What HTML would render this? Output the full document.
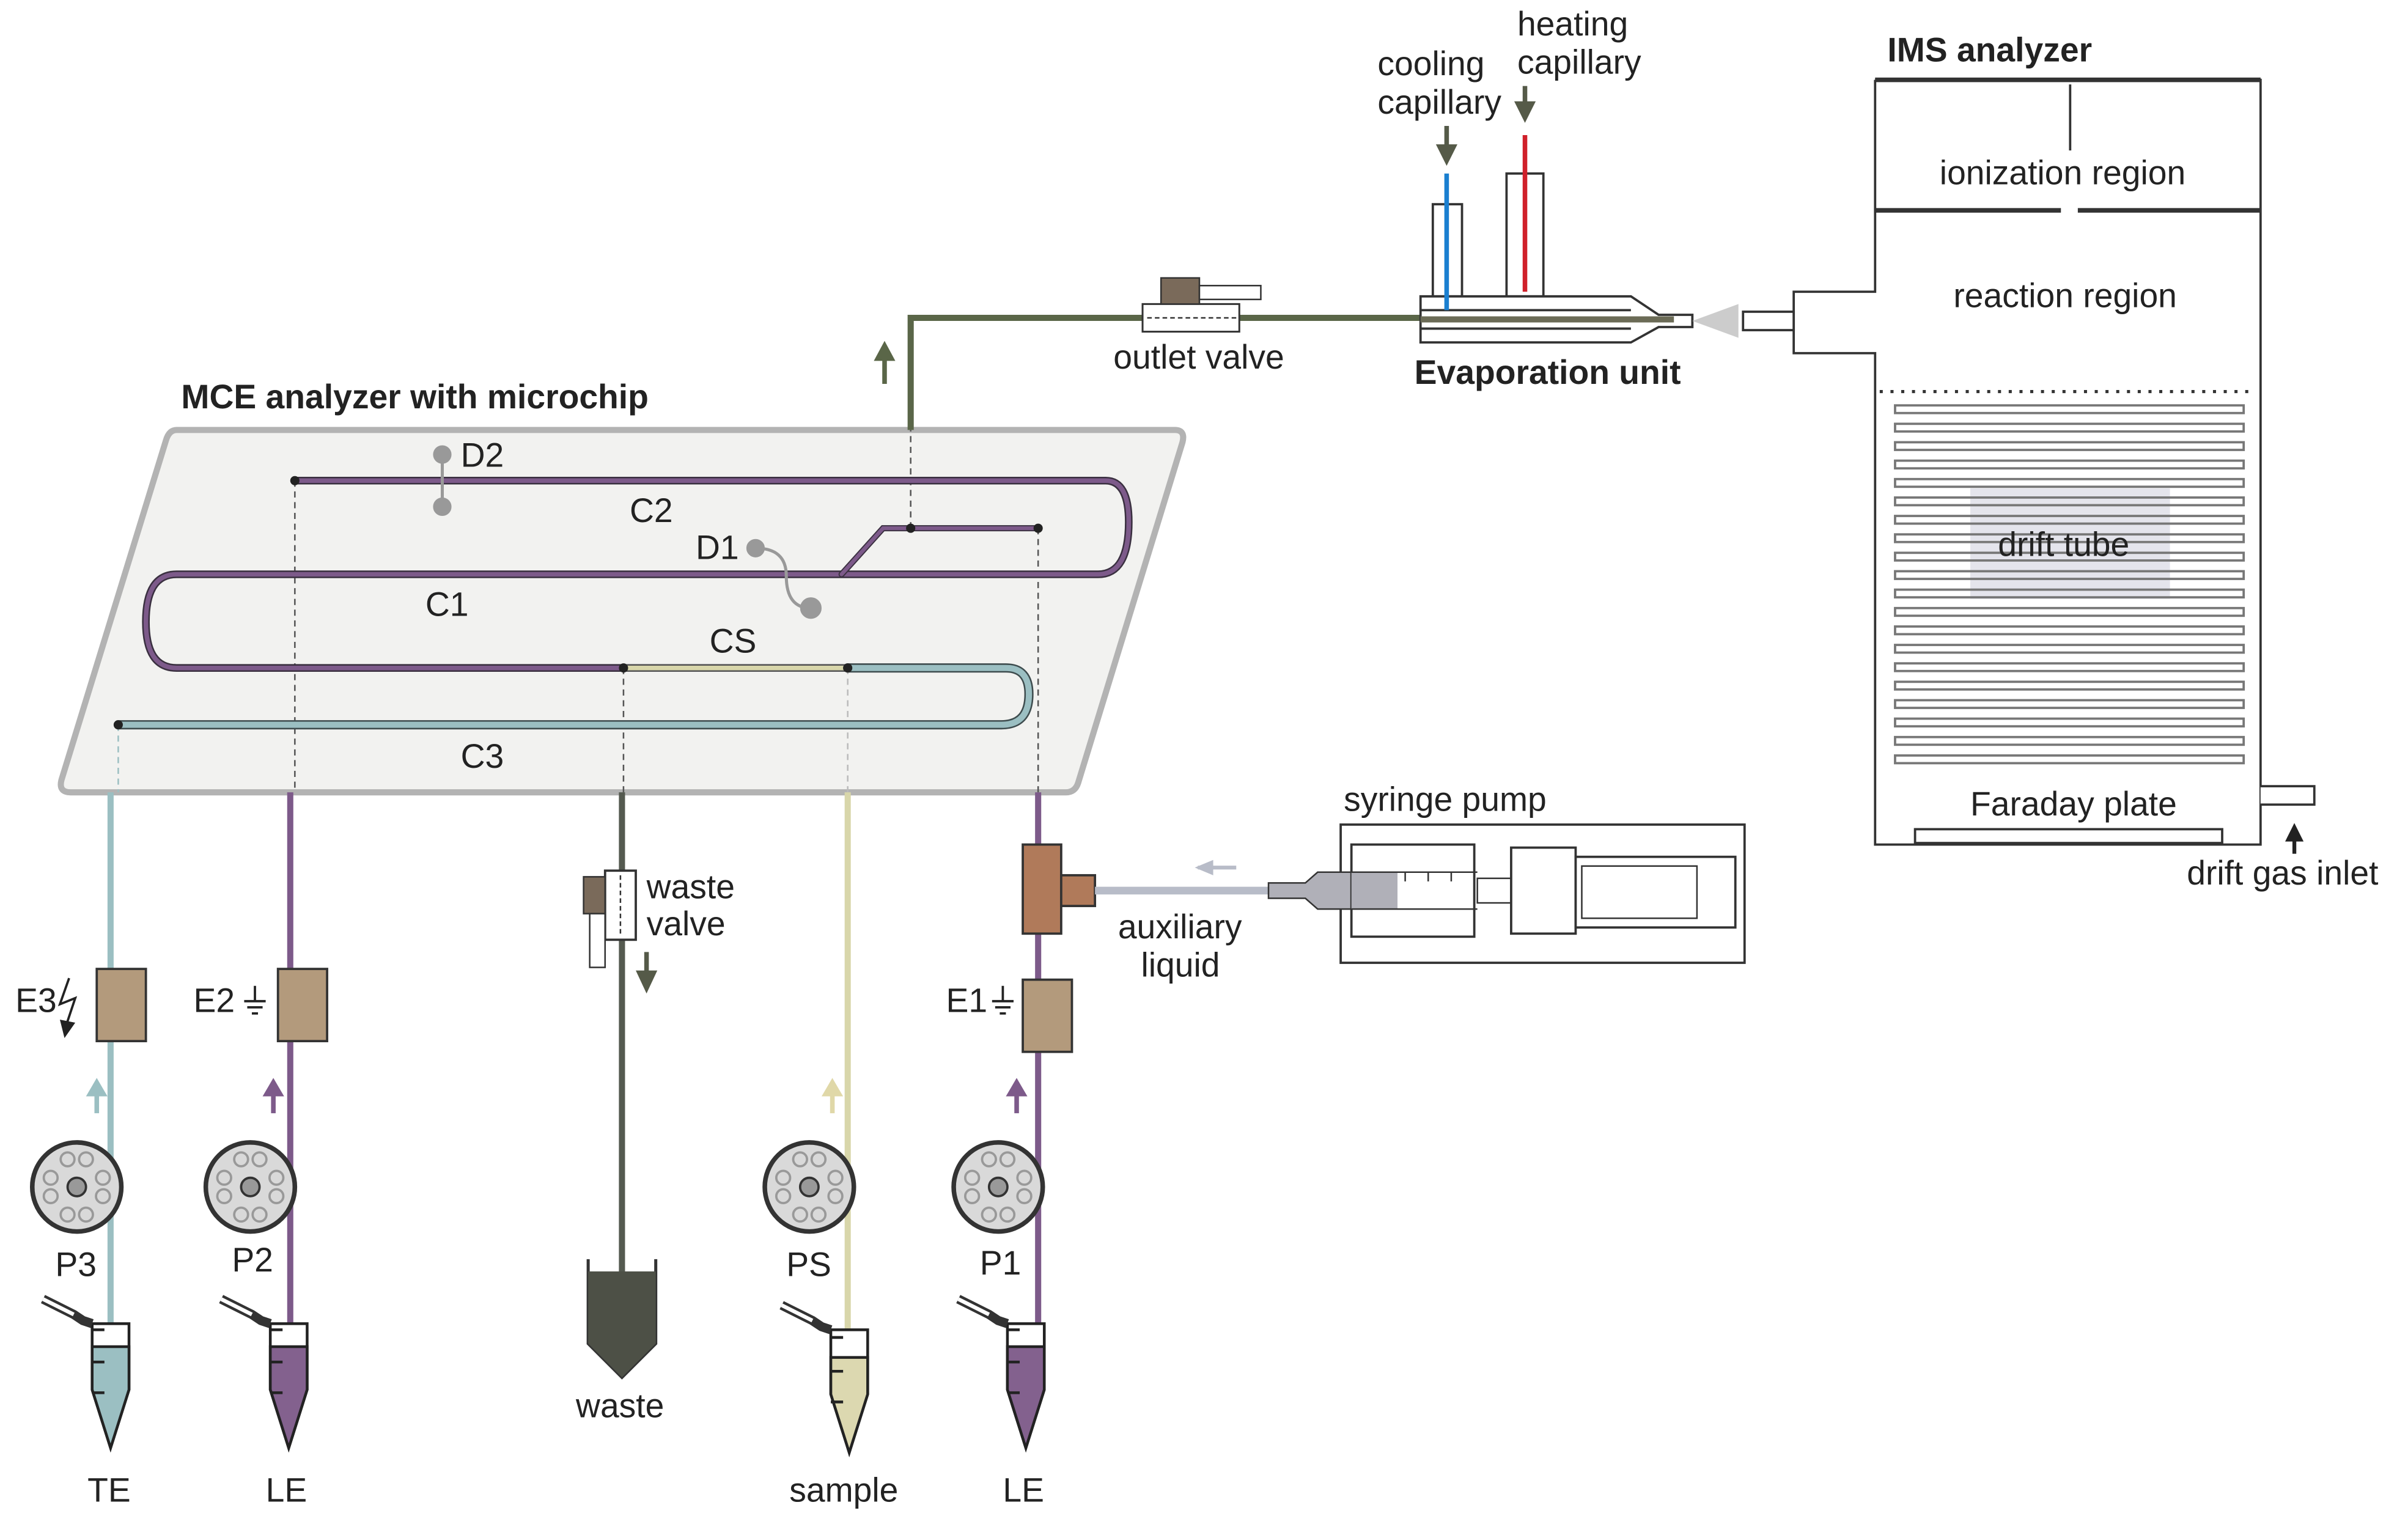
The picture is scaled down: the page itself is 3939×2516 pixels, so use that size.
<!DOCTYPE html>
<html><head><meta charset="utf-8"><style>
html,body{margin:0;padding:0;background:#fff}
svg{display:block}
text{font-family:"Liberation Sans",sans-serif;fill:#222}
</style></head><body>
<svg width="3939" height="2516" viewBox="0 0 1568 1001.6" preserveAspectRatio="none" xmlns="http://www.w3.org/2000/svg">
<defs>
<g id="pump">
<circle r="29" fill="#d9d9d9" stroke="#333" stroke-width="3"/>
<circle r="6" fill="#999" stroke="#333" stroke-width="1.5"/>
<g fill="none" stroke="#999" stroke-width="1.5">
<circle cx="-17" cy="-6" r="4.5"/><circle cx="-17" cy="6" r="4.5"/><circle cx="17" cy="-6" r="4.5"/><circle cx="17" cy="6" r="4.5"/>
<circle cx="-6" cy="-18" r="4.5"/><circle cx="6" cy="-18" r="4.5"/><circle cx="-6" cy="18" r="4.5"/><circle cx="6" cy="18" r="4.5"/>
</g></g>
<g id="tubeL">
<path d="M-60,-18 L-40,-8 L-34,-4 L-28,-2" fill="none" stroke="#333" stroke-width="6"/>
<path d="M-60,-18 L-40,-8" fill="none" stroke="#fff" stroke-width="2.5"/>
</g>
<g id="gnd" stroke="#222" stroke-width="1.5" fill="none"><path d="M0,-10V0M-7,0H7M-5,4H5M-2,8H2"/></g>
</defs>

<!-- chip -->
<path d="M115,280 H765 Q772,280 770,288 L702,510 Q700,516 694,516 H46 Q38,516 40,508 L108,287 Q110,280 115,280Z" fill="#f2f2f0" stroke="#b3b3b3" stroke-width="4"/>
<text x="118" y="266" font-size="22" font-weight="bold">MCE analyzer with microchip</text>

<g stroke="#555" stroke-width="1" stroke-dasharray="4,3" fill="none">
<line x1="192" y1="313" x2="192" y2="516"/>
<line x1="406" y1="435" x2="406" y2="516"/>
<line x1="552" y1="435" x2="552" y2="516" stroke="#bbb"/>
<line x1="676" y1="344" x2="676" y2="516"/>
<line x1="593" y1="344" x2="593" y2="280"/>
<line x1="77" y1="472" x2="77" y2="516" stroke="#9bbfc2"/>
</g>
<g fill="none" stroke-linecap="round">
<path d="M192,313 H720 Q735,313 735,340 Q735,374 715,374 H115 Q95,374 95,405 Q95,435 115,435 H406" stroke="#3a3040" stroke-width="5"/>
<path d="M192,313 H720 Q735,313 735,340 Q735,374 715,374 H115 Q95,374 95,405 Q95,435 115,435 H406" stroke="#7d5a8a" stroke-width="3"/>
<path d="M406,435 H552" stroke="#555" stroke-width="5"/><path d="M406,435 H552" stroke="#d8d6aa" stroke-width="3"/>
<path d="M552,435 H655 Q670,435 670,452 Q670,472 652,472 H77" stroke="#3e4c4e" stroke-width="6"/>
<path d="M552,435 H655 Q670,435 670,452 Q670,472 652,472 H77" stroke="#9bbfc2" stroke-width="4"/>
<path d="M548,374 L575,344 H676" stroke="#3a3040" stroke-width="4"/><path d="M548,374 L575,344 H676" stroke="#7d5a8a" stroke-width="2.5"/>
</g>
<g fill="#222"><circle cx="192" cy="313" r="3"/><circle cx="593" cy="344" r="3"/><circle cx="676" cy="344" r="3"/><circle cx="406" cy="435" r="3"/><circle cx="552" cy="435" r="3"/><circle cx="77" cy="472" r="3"/></g>
<g stroke="#999" stroke-width="2" fill="#999">
<line x1="288" y1="296" x2="288" y2="330"/><circle cx="288" cy="296" r="5"/><circle cx="288" cy="330" r="5"/>
<path d="M492,357 Q512,357 512,375 Q512,396 528,396" fill="none"/><circle cx="492" cy="357" r="5"/><circle cx="528" cy="396" r="6"/>
</g>
<g font-size="22"><text x="300" y="304">D2</text><text x="410" y="340">C2</text><text x="453" y="364">D1</text><text x="277" y="401">C1</text><text x="462" y="425">CS</text><text x="300" y="500">C3</text></g>

<path d="M593,280 V207 H925" fill="none" stroke="#5a6648" stroke-width="4"/>
<path d="M576,250 V232" stroke="#5a6648" stroke-width="3"/><path d="M569,235 L576,222 L583,235Z" fill="#5a6648"/>
<rect x="744" y="198" width="63" height="18" fill="#fff" stroke="#333" stroke-width="1.2"/>
<line x1="747" y1="207" x2="805" y2="207" stroke="#333" stroke-dasharray="3,2"/>
<rect x="756" y="181" width="25" height="17" fill="#7a6a5a" stroke="#333"/>
<rect x="781" y="186" width="40" height="9" fill="#fff" stroke="#333"/>
<text x="725" y="240" font-size="22">outlet valve</text>

<rect x="933" y="133" width="19" height="60" fill="#fff" stroke="#333" stroke-width="1.5"/>
<rect x="981" y="113" width="24" height="80" fill="#fff" stroke="#333" stroke-width="1.5"/>
<path d="M925,193 H1062 L1080,205 H1102 V213 H1080 L1062,223 H925Z" fill="#fff" stroke="#333" stroke-width="1.5"/>
<line x1="925" y1="202" x2="1062" y2="202" stroke="#333" stroke-width="1.5"/><line x1="925" y1="214" x2="1062" y2="214" stroke="#333" stroke-width="1.5"/>
<path d="M925,208 H1090" stroke="#6b6b56" stroke-width="4"/>
<path d="M1102,209 L1132,198 L1132,220Z" fill="#ccc"/>
<line x1="942" y1="113" x2="942" y2="202" stroke="#1a7fd0" stroke-width="3"/>
<line x1="993" y1="88" x2="993" y2="190" stroke="#d0202a" stroke-width="3"/>
<path d="M942,82 V96" stroke="#555a48" stroke-width="3"/><path d="M935,94 L942,108 L949,94Z" fill="#555a48"/>
<path d="M993,56 V68" stroke="#555a48" stroke-width="3"/><path d="M986,66 L993,80 L1000,66Z" fill="#555a48"/>
<g font-size="22"><text x="897" y="49">cooling</text><text x="897" y="74">capillary</text><text x="988" y="23">heating</text><text x="988" y="48">capillary</text></g>
<text x="921" y="250" font-size="22" font-weight="bold">Evaporation unit</text>

<text x="1229" y="40" font-size="22" font-weight="bold">IMS analyzer</text>
<path d="M1221,52 H1472 V550 H1221 V283 M1221,52 V190 H1168 V230 H1221 V283" fill="none" stroke="#333" stroke-width="1.5"/>
<path d="M1221,52 H1472" stroke="#333" stroke-width="3"/>
<path d="M1221,137 H1342 M1353,137 H1472" stroke="#333" stroke-width="3"/>
<rect x="1135" y="203" width="33" height="12" fill="#fff" stroke="#333" stroke-width="1.5"/>
<line x1="1348" y1="55" x2="1348" y2="98" stroke="#333" stroke-width="1.5"/>
<text x="1263" y="120" font-size="22">ionization region</text>
<text x="1272" y="200" font-size="22">reaction region</text>
<line x1="1224" y1="255" x2="1468" y2="255" stroke="#333" stroke-width="2" stroke-dasharray="2,5"/>
<rect x="1283" y="318" width="130" height="72" fill="#e4e4ec"/>
<g fill="none" stroke="#777" stroke-width="1.5">
<rect x="1234" y="264" width="227" height="5"/><rect x="1234" y="276" width="227" height="5"/><rect x="1234" y="288" width="227" height="5"/><rect x="1234" y="300" width="227" height="5"/><rect x="1234" y="312" width="227" height="5"/><rect x="1234" y="324" width="227" height="5"/><rect x="1234" y="336" width="227" height="5"/><rect x="1234" y="348" width="227" height="5"/><rect x="1234" y="360" width="227" height="5"/><rect x="1234" y="372" width="227" height="5"/><rect x="1234" y="384" width="227" height="5"/><rect x="1234" y="396" width="227" height="5"/><rect x="1234" y="408" width="227" height="5"/><rect x="1234" y="420" width="227" height="5"/><rect x="1234" y="432" width="227" height="5"/><rect x="1234" y="444" width="227" height="5"/><rect x="1234" y="456" width="227" height="5"/><rect x="1234" y="468" width="227" height="5"/><rect x="1234" y="480" width="227" height="5"/><rect x="1234" y="492" width="227" height="5"/>
</g>
<text x="1301" y="362" font-size="22" fill="#555">drift tube</text>
<text x="1283" y="531" font-size="22">Faraday plate</text>
<rect x="1247" y="540" width="200" height="9" fill="#fff" stroke="#333" stroke-width="1.5"/>
<path d="M1472,512 H1507 V524 H1472" fill="#fff" stroke="#333" stroke-width="1.5"/>
<path d="M1494,556 V546" stroke="#222" stroke-width="2.5"/><path d="M1488,548 L1494,536 L1500,548Z" fill="#222"/>
<text x="1424" y="576" font-size="22">drift gas inlet</text>

<line x1="72" y1="516" x2="72" y2="862" stroke="#9bbfc2" stroke-width="4"/>
<line x1="189" y1="516" x2="189" y2="862" stroke="#7d5a8a" stroke-width="4"/>
<line x1="405" y1="516" x2="405" y2="840" stroke="#555a50" stroke-width="4"/>
<line x1="552" y1="516" x2="552" y2="868" stroke="#d8d6aa" stroke-width="4"/>
<line x1="676" y1="516" x2="676" y2="862" stroke="#7d5a8a" stroke-width="4"/>

<rect x="63" y="631" width="32" height="47" fill="#b39a7c" stroke="#333" stroke-width="1.5"/>
<rect x="181" y="631" width="32" height="47" fill="#b39a7c" stroke="#333" stroke-width="1.5"/>
<rect x="666" y="638" width="32" height="47" fill="#b39a7c" stroke="#333" stroke-width="1.5"/>
<rect x="666" y="550" width="25" height="58" fill="#b07a5a" stroke="#333" stroke-width="1.5"/>
<rect x="691" y="570" width="22" height="20" fill="#b07a5a" stroke="#333" stroke-width="1.5"/>
<g font-size="22"><text x="10" y="659">E3</text><text x="126" y="659">E2</text><text x="616" y="659">E1</text></g>
<path d="M45,637 L39,654 L49,650 L43,668" fill="none" stroke="#222" stroke-width="1.5"/><path d="M39,664 L42,676 L49,666Z" fill="#222"/>
<use href="#gnd" x="166" y="652"/><use href="#gnd" x="653" y="652"/>

<rect x="394" y="567" width="20" height="45" fill="#fff" stroke="#333" stroke-width="1.5"/>
<line x1="404" y1="570" x2="404" y2="610" stroke="#333" stroke-dasharray="3,2"/>
<rect x="380" y="571" width="14" height="24" fill="#7a6a5a" stroke="#333"/>
<rect x="384" y="595" width="10" height="35" fill="#fff" stroke="#333"/>
<path d="M421,620 V634" stroke="#555a48" stroke-width="3"/><path d="M414,632 L421,647 L428,632Z" fill="#555a48"/>
<text x="421" y="585" font-size="22">waste</text><text x="421" y="609" font-size="22">valve</text>
<text x="728" y="611" font-size="22">auxiliary</text><text x="743" y="636" font-size="22">liquid</text>

<rect x="873" y="537" width="263" height="90" fill="#fff" stroke="#333" stroke-width="1.5"/>
<text x="875" y="528" font-size="22">syringe pump</text>
<line x1="713" y1="580" x2="826" y2="580" stroke="#b8bcc8" stroke-width="5"/>
<path d="M780,565 H805" stroke="#b8bcc8" stroke-width="2.5"/><path d="M790,560 L778,565 L790,570Z" fill="#b8bcc8"/>
<path d="M826,575 H850 L858,568 H880 V592 H858 L850,585 H826Z" fill="#b0b0b8" stroke="#333"/>
<rect x="880" y="550" width="80" height="60" fill="#fff" stroke="#333" stroke-width="1.5"/>
<rect x="880" y="568" width="30" height="24" fill="#b0b0b8"/>
<path d="M880,568 H962 M880,592 H962" stroke="#333"/>
<path d="M915,568 v6 M930,568 v6 M945,568 v6" stroke="#333"/>
<rect x="962" y="572" width="22" height="16" fill="#fff" stroke="#333"/>
<rect x="984" y="552" width="42" height="56" fill="#fff" stroke="#333" stroke-width="1.5"/>
<rect x="1026" y="558" width="104" height="46" fill="#fff" stroke="#333" stroke-width="1.5"/>
<rect x="1030" y="564" width="75" height="34" fill="#fff" stroke="#333"/>

<path d="M63,725 V712" stroke="#9bbfc2" stroke-width="3"/><path d="M56,714 L63,702 L70,714Z" fill="#9bbfc2"/>
<path d="M178,725 V712" stroke="#7d5a8a" stroke-width="3"/><path d="M171,714 L178,702 L185,714Z" fill="#7d5a8a"/>
<path d="M542,725 V712" stroke="#e0d8a8" stroke-width="3"/><path d="M535,714 L542,702 L549,714Z" fill="#e0d8a8"/>
<path d="M662,725 V712" stroke="#7d5a8a" stroke-width="3"/><path d="M655,714 L662,702 L669,714Z" fill="#7d5a8a"/>

<use href="#pump" x="50" y="773"/><use href="#pump" x="163" y="773"/><use href="#pump" x="527" y="773"/><use href="#pump" x="650" y="773"/>
<g font-size="22"><text x="36" y="831">P3</text><text x="151" y="828">P2</text><text x="512" y="831">PS</text><text x="638" y="830">P1</text></g>

<g stroke="#222" stroke-width="1.8">
<path d="M60,862 H84 V905 L72,943 L60,905Z" fill="#fff"/>
<path d="M60,877 H84 V905 L72,943 L60,905Z" fill="#9bbfc2"/>
<path d="M176,862 H200 V905 L188,943 L176,905Z" fill="#fff"/>
<path d="M176,877 H200 V905 L188,943 L176,905Z" fill="#83618e"/>
<path d="M541,866 H565 V908 L553,946 L541,908Z" fill="#fff"/>
<path d="M541,884 H565 V908 L553,946 L541,908Z" fill="#dcd8b0"/>
<path d="M656,862 H680 V905 L668,943 L656,905Z" fill="#fff"/>
<path d="M656,877 H680 V905 L668,943 L656,905Z" fill="#83618e"/>
<path d="M60,866h8M60,887h8M60,907h8M176,866h8M176,887h8M176,907h8M541,871h8M541,893h8M541,913h8M656,866h8M656,887h8M656,907h8" fill="none"/>
</g>
<use href="#tubeL" x="88" y="864"/><use href="#tubeL" x="204" y="864"/><use href="#tubeL" x="569" y="868"/><use href="#tubeL" x="684" y="864"/>
<path d="M383,820 V875 L405,897 L427,875 V820" fill="none" stroke="#333" stroke-width="2"/>
<path d="M383,828 H427 V875 L405,897 L383,875Z" fill="#4d5046"/>
<g font-size="22"><text x="375" y="923">waste</text><text x="57" y="978">TE</text><text x="173" y="978">LE</text><text x="514" y="978">sample</text><text x="653" y="978">LE</text></g>
</svg>
</body></html>
